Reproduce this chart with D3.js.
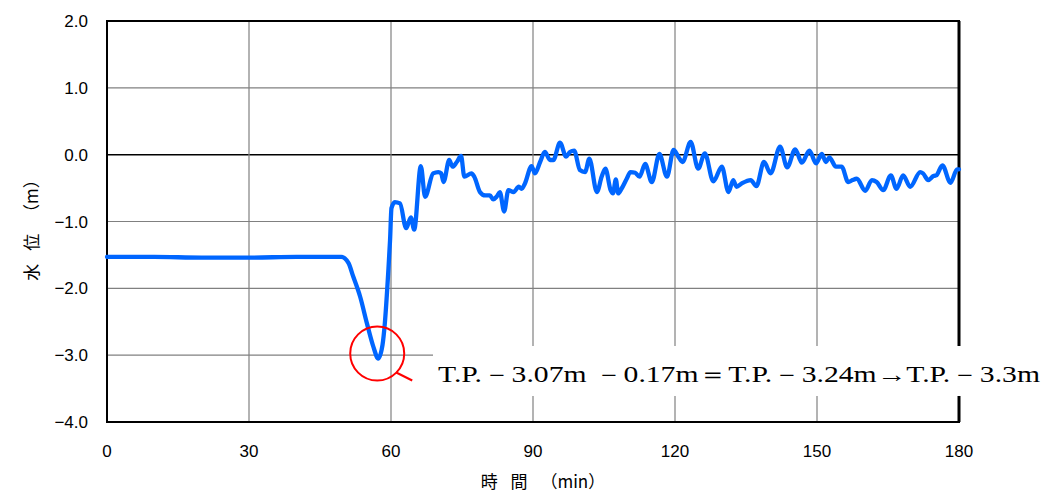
<!DOCTYPE html>
<html><head><meta charset="utf-8">
<script src="https://cdn.jsdelivr.net/npm/d3@7"></script>
<style>body{margin:0;background:#fff}svg{display:block}</style>
</head><body><svg id="c" width="1043" height="496"></svg>
<script>
const timeMin = [0,10,20,30,40,49.5,51,52,53.5,54.9,56.3,57.3,58.2,58.7,59.4,59.8,60.1,60.8,61.9,63.2,64.2,64.9,66.3,67.2,68.9,70.0,70.6,71.1,72.3,73.0,73.9,74.8,75.5,77.0,77.6,78.8,79.9,80.9,81.6,82.3,83.0,83.9,84.8,85.9,87.0,87.6,88.3,89.7,90.4,91.5,92.5,93.6,94.3,95.7,97.0,97.8,98.7,99.9,101.0,101.9,103.5,104.5,105.3,106.4,106.9,107.5,108.0,108.7,109.8,110.6,111.6,112.5,113.7,115.1,116.7,118.3,119.7,120.7,121.6,123.3,124.9,126.3,128.1,129.9,131.3,132.3,133.0,134.1,136.0,137.2,138.8,140.2,142.2,143.7,145.4,146.8,148.4,149.8,151.0,151.9,152.6,154.0,155.2,156.6,157.5,158.4,160.2,161.6,162.6,164.0,165.6,166.8,168.2,169.7,171.8,172.4,173.5,174.6,175.2,176.5,178.2,179.6,180];
const waterLevel = [-1.53,-1.53,-1.54,-1.54,-1.53,-1.53,-1.62,-1.82,-2.13,-2.52,-2.88,-3.05,-2.85,-2.52,-1.78,-1.28,-0.80,-0.71,-0.73,-1.10,-0.94,-1.12,-0.17,-0.63,-0.28,-0.26,-0.28,-0.41,-0.08,-0.18,-0.11,-0.02,-0.33,-0.28,-0.33,-0.56,-0.61,-0.61,-0.67,-0.63,-0.56,-0.85,-0.53,-0.56,-0.48,-0.51,-0.43,-0.17,-0.28,-0.11,0.04,-0.08,-0.08,0.18,-0.03,0.04,0.06,-0.23,-0.26,-0.06,-0.56,-0.33,-0.21,-0.53,-0.58,-0.37,-0.58,-0.51,-0.36,-0.26,-0.27,-0.33,-0.14,-0.41,0.01,-0.33,0.07,-0.03,-0.11,0.19,-0.21,0.02,-0.40,-0.18,-0.56,-0.38,-0.48,-0.43,-0.38,-0.47,-0.11,-0.28,0.12,-0.19,0.08,-0.12,0.06,-0.13,0.01,-0.11,-0.04,-0.18,-0.18,-0.41,-0.38,-0.36,-0.54,-0.38,-0.41,-0.53,-0.31,-0.51,-0.31,-0.48,-0.26,-0.28,-0.38,-0.32,-0.31,-0.16,-0.42,-0.22,-0.22];
const xTicks = [0,30,60,90,120,150,180];
const yTicks = [2,1,0,-1,-2,-3,-4];
const yTickLabels = ["2.0","1.0","0.0","\u22121.0","\u22122.0","\u22123.0","\u22124.0"];
const xTitle = "時 間 （min）";
const yTitle = "水 位 （m）";
const minPoint = {t:57.3, v:-3.05};
const note = "T.P.－3.07m －0.17m＝T.P.－3.24m→T.P.－3.3m";

const svg = d3.select("#c");
const L=107, R=959, T=21, B=422;
const x = d3.scaleLinear().domain([0,180]).range([L,R]);
const y = d3.scaleLinear().domain([-4,2]).range([B,T]);

// grid
svg.append("g").selectAll("line").data(yTicks.filter(v=>v!==2&&v!==-4)).join("line")
  .attr("x1",L).attr("x2",R).attr("y1",d=>y(d)).attr("y2",d=>y(d))
  .attr("stroke",d=>d===0?"#000":"#808080").attr("stroke-width",d=>d===0?1.5:1.2);
svg.append("g").selectAll("line").data(xTicks.filter(v=>v!==0&&v!==180)).join("line")
  .attr("x1",d=>x(d)).attr("x2",d=>x(d)).attr("y1",T).attr("y2",B)
  .attr("stroke","#808080").attr("stroke-width",1.2);

// frame
svg.append("rect").attr("x",L).attr("y",T).attr("width",R-L).attr("height",B-T)
  .attr("fill","none").attr("stroke","#000").attr("stroke-width",2);
svg.append("line").attr("x1",R).attr("x2",R).attr("y1",T).attr("y2",B).attr("stroke","#000").attr("stroke-width",3);

// tick labels
svg.append("g").selectAll("text").data(yTicks).join("text")
  .attr("x",88).attr("y",d=>y(d)).attr("dy","0.36em").attr("text-anchor","end")
  .attr("font-family","Liberation Sans, Arial, sans-serif").attr("font-size",17)
  .text((d,i)=>yTickLabels[i]);
svg.append("g").selectAll("text").data(xTicks).join("text")
  .attr("x",d=>x(d)).attr("y",457).attr("text-anchor","middle")
  .attr("font-family","Liberation Sans Narrow, Liberation Sans, Arial, sans-serif").attr("font-size",17)
  .text(d=>d);

// titles
svg.append("text").attr("transform","translate(38,226) rotate(-90)").attr("text-anchor","middle")
  .attr("font-family","Noto Sans CJK JP, sans-serif").attr("font-size",17)
  .style("word-spacing","9px").text(yTitle);
svg.append("text").attr("x",543).attr("y",488).attr("text-anchor","middle")
  .attr("font-family","Noto Sans CJK JP, sans-serif").attr("font-size",17)
  .style("word-spacing","9px").text(xTitle);

// line
const line = d3.line().x((d,i)=>x(timeMin[i])).y((d,i)=>y(waterLevel[i])).curve(d3.curveMonotoneX);
svg.append("path").attr("d",line(waterLevel)).attr("fill","none").attr("stroke","#0066ff")
  .attr("stroke-width",4.3).attr("stroke-linejoin","round").attr("stroke-linecap","round");

// annotation
const cx = x(minPoint.t)-1, cy = y(minPoint.v)-5;
svg.append("ellipse").attr("cx",cx).attr("cy",cy).attr("rx",27).attr("ry",27)
  .attr("fill","none").attr("stroke","#ff0000").attr("stroke-width",2);
svg.append("line").attr("x1",cx+19).attr("y1",cy+19).attr("x2",cx+35).attr("y2",cy+27)
  .attr("stroke","#ff0000").attr("stroke-width",2);
svg.append("rect").attr("x",433).attr("y",346).attr("width",610).attr("height",50).attr("fill","#fff");
svg.append("text").attr("x",438).attr("y",382)
  .attr("font-family","Liberation Serif, Times New Roman, serif").attr("font-size",23)
  .attr("textLength",602).attr("lengthAdjust","spacingAndGlyphs").text(note);
</script></body></html>
